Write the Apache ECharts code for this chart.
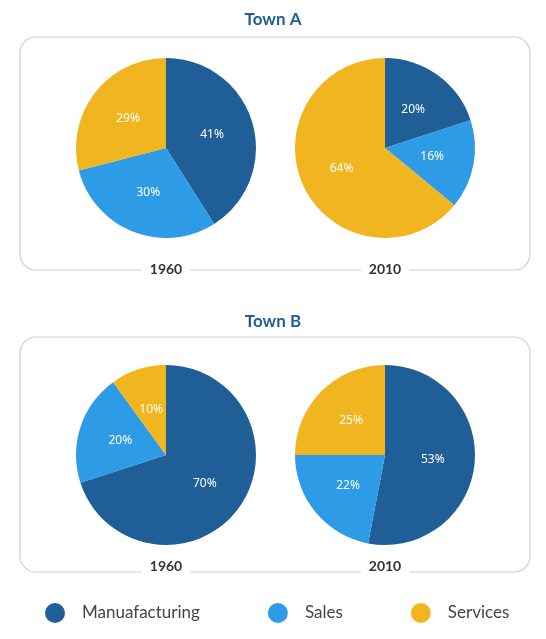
<!DOCTYPE html>
<html><head><meta charset="utf-8">
<script src="https://cdn.jsdelivr.net/npm/echarts@6/dist/echarts.min.js"></script>
<style>html,body{margin:0;padding:0;background:#fff}#c{width:546px;height:639px}</style>
</head><body><div id="c"></div>
<script>
const categories = ['Manuafacturing', 'Sales', 'Services'];
const townA1960 = [41, 30, 29];
const townA2010 = [20, 16, 64];
const townB1960 = [70, 20, 10];
const townB2010 = [53, 22, 25];
const years = ['1960', '2010'];
const towns = ['Town A', 'Town B'];
const colors = ['#1f5e97', '#2d9be6', '#f0b51f'];

const chart = echarts.init(document.getElementById('c'));
function pie(data, cx, cy) {
  return {
    type: 'pie', center: [cx, cy], radius: 90, startAngle: 90, clockwise: true,
    silent: true,
    label: { position: 'inside', formatter: '{c}%', color: '#fff', fontSize: 12, fontFamily: 'Noto Sans' },
    labelLine: { show: false },
    itemStyle: { borderWidth: 0 },
    data: data.map((v, i) => ({ name: categories[i], value: v }))
  };
}
function box(y, h) {
  return { type: 'rect', shape: { x: 20, y: y, width: 510, height: h, r: 16 },
    style: { fill: '#fff', stroke: '#cfcfcf', lineWidth: 1.2 }, z: -1 };
}
function yearLabel(t, x, y) {
  return { type: 'text', x: x, y: y, style: { text: t, fill: '#333', font: 'bold 14px Lato',
    align: 'center', verticalAlign: 'middle', backgroundColor: '#fff', padding: [2, 8] }, z: 5 };
}
function title(t, y) {
  return { type: 'text', x: 273, y: y, style: { text: t, fill: '#1f5e97', font: 'bold 17px Lato',
    align: 'center', verticalAlign: 'middle' } };
}
chart.setOption({
  animation: false,
  color: colors,
  legend: {
    bottom: 11, left: 40, itemGap: 68, icon: 'circle', itemWidth: 20, itemHeight: 20,
    textStyle: { fontSize: 17, color: '#444', fontFamily: 'Lato', padding: [0, 0, 0, 12] },
    data: categories
  },
  graphic: [
    title(towns[0], 20), box(37, 233),
    yearLabel(years[0], 166, 269), yearLabel(years[1], 385, 269),
    title(towns[1], 322), box(337, 235),
    yearLabel(years[0], 166, 566), yearLabel(years[1], 385, 566)
  ],
  series: [
    pie(townA1960, 166, 148), pie(townA2010, 385, 148),
    pie(townB1960, 166, 455), pie(townB2010, 385, 455)
  ]
});
</script></body></html>
